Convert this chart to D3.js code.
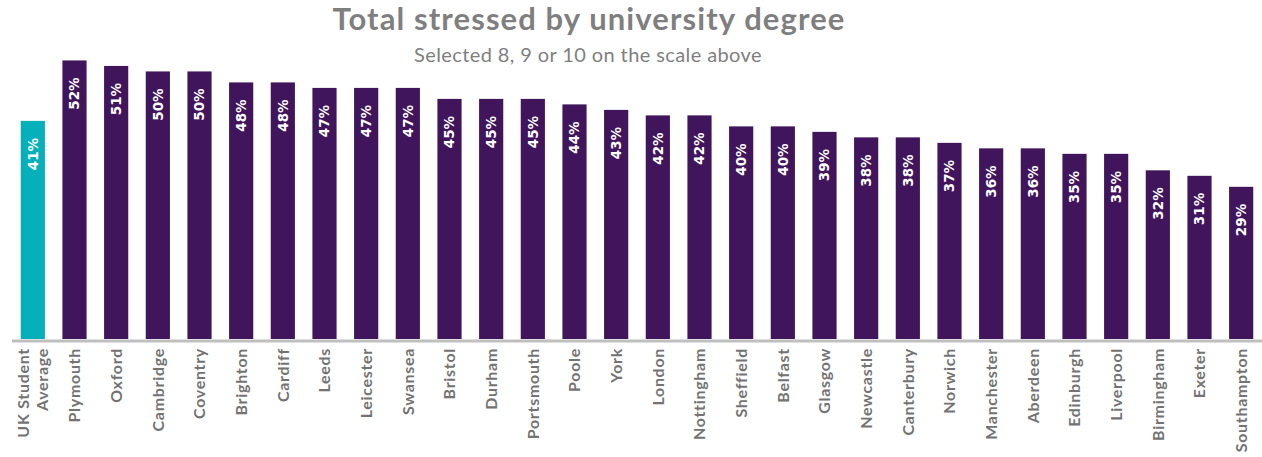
<!DOCTYPE html>
<html>
<head>
<meta charset="utf-8">
<script src="https://cdn.jsdelivr.net/npm/d3@7"></script>
<style>
  html, body { margin: 0; padding: 0; background: #ffffff; }
  svg { display: block; }
</style>
</head>
<body>
<svg id="chart" width="1262" height="457"></svg>
<script>
const categories = ["UK Student Average", "Plymouth", "Oxford", "Cambridge", "Coventry", "Brighton", "Cardiff", "Leeds", "Leicester", "Swansea", "Bristol", "Durham", "Portsmouth", "Poole", "York", "London", "Nottingham", "Sheffield", "Belfast", "Glasgow", "Newcastle", "Canterbury", "Norwich", "Manchester", "Aberdeen", "Edinburgh", "Liverpool", "Birmingham", "Exeter", "Southampton"];
const values = [41, 52, 51, 50, 50, 48, 48, 47, 47, 47, 45, 45, 45, 44, 43, 42, 42, 40, 40, 39, 38, 38, 37, 36, 36, 35, 35, 32, 31, 29];
const highlight = ["UK Student Average"];
const yDomain = [1.3, 63];
const titleText = "Total stressed by university degree";
const subtitleText = "Selected 8, 9 or 10 on the scale above";

const svg = d3.select("#chart");
const W = 1262, baseY = 339;
const font = "Lato, 'Open Sans', sans-serif";

const x = d3.scaleBand().domain(categories).range([12, 1262]).paddingInner(0.42).paddingOuter(0.21);
const y = d3.scaleLinear().domain(yDomain).range([baseY, 0]);

svg.append("text")
  .attr("x", 589).attr("y", 30)
  .attr("text-anchor", "middle")
  .attr("font-family", font).attr("font-weight", 700)
  .attr("font-size", 31).attr("letter-spacing", 1.1).attr("fill", "#7f7f7f")
  .text(titleText);

svg.append("text")
  .attr("x", 588).attr("y", 62)
  .attr("text-anchor", "middle")
  .attr("font-family", font).attr("font-weight", 400)
  .attr("font-size", 20).attr("letter-spacing", 0.4).attr("fill", "#7f7f7f")
  .text(subtitleText);

const data = categories.map((c, i) => ({ c, v: values[i] }));

svg.append("g").selectAll("rect").data(data).join("rect")
  .attr("x", d => x(d.c))
  .attr("width", x.bandwidth())
  .attr("y", d => y(d.v))
  .attr("height", d => baseY - y(d.v))
  .attr("fill", d => highlight.includes(d.c) ? "#06b0bb" : "#41155b");

svg.append("g").selectAll("text").data(data).join("text")
  .attr("transform", d => `translate(${x(d.c) + x.bandwidth() / 2},${y(d.v) + 17}) rotate(-90)`)
  .attr("text-anchor", "end")
  .attr("dy", "0.36em")
  .attr("font-family", "'DejaVu Sans', Verdana, sans-serif").attr("font-weight", 700)
  .attr("font-size", 13.5).attr("fill", "#ffffff")
  .text(d => d.v + "%");

// axis baseline
svg.append("line")
  .attr("x1", 12).attr("x2", W)
  .attr("y1", baseY + 2).attr("y2", baseY + 2)
  .attr("stroke", "#bfbfbf").attr("stroke-width", 3);

// category labels
const lab = svg.append("g").selectAll("text").data(data).join("text")
  .attr("transform", d => `translate(${x(d.c) + x.bandwidth() / 2},348) rotate(-90)`)
  .attr("text-anchor", "end")
  .attr("font-family", font).attr("font-weight", 700)
  .attr("font-size", 16).attr("letter-spacing", 0.7).attr("fill", "#737373");

lab.each(function(d) {
  const t = d3.select(this);
  if (d.c === "UK Student Average") {
    t.append("tspan").attr("x", 0).attr("dy", "-0.22em").text("UK Student");
    t.append("tspan").attr("x", 0).attr("dy", "1.15em").text("Average");
  } else {
    t.append("tspan").attr("x", 0).attr("dy", "0.36em").text(d.c);
  }
});
</script>
</body>
</html>
